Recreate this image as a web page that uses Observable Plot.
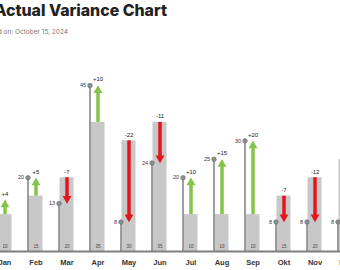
<!DOCTYPE html>
<html>
<head>
<meta charset="utf-8">
<script src="https://cdn.jsdelivr.net/npm/d3@7"></script>
<script src="https://cdn.jsdelivr.net/npm/@observablehq/plot@0.6"></script>
<style>
  html, body { margin: 0; padding: 0; background: #fff; overflow: hidden; }
  #page { position: relative; width: 340px; height: 270px; overflow: hidden; }
  #head { position: relative; width: 340px; height: 40px; }
  #title {
    position: absolute; right: 173px; top: 1px; white-space: nowrap;
    font-family: Inter, "DejaVu Sans", sans-serif; font-weight: 800; font-size: 15.9px;
    color: #222; letter-spacing: 0px;
  }
  #subtitle {
    position: absolute; right: 272px; top: 28px; white-space: nowrap;
    font-family: Inter, "DejaVu Sans", sans-serif; font-size: 6.5px; color: #777;
  }
  #chart svg { display: block; }
</style>
</head>
<body>
<div id="page">
  <div id="head">
    <div id="title">Plan vs Actual Variance Chart</div>
    <div id="subtitle">Updated on: October 15, 2024</div>
  </div>
  <div id="chart"></div>
</div>
<script>
// Monthly plan vs actual values
const months = ["Jan", "Feb", "Mar", "Apr", "May", "Jun", "Jul", "Aug", "Sep", "Okt", "Nov", "Dez"];
const plan   = [10, 15, 20, 35, 30, 35, 10, 10, 10, 15, 20, 25];
const actual = [14, 20, 13, 45,  8, 24, 20, 25, 30,  8,  8,  8];

const rows = months.map((m, i) => ({
  month: m,
  plan: plan[i],
  actual: actual[i],
  diff: actual[i] - plan[i]
}));
const up = rows.filter(d => d.diff >= 0);
const down = rows.filter(d => d.diff < 0);

const green = "#86c34a";
const red = "#e3161e";
const font = "'Liberation Sans', Arial, sans-serif";

const chart = Plot.plot({
  width: 340,
  height: 230,
  margin: 0,
  style: { background: "transparent", fontFamily: font },
  x: { type: "band", domain: months, range: [-11, 361], padding: 0, round: false, axis: null },
  y: { domain: [0, 45], range: [211, 45], axis: null },
  marks: [
    // plan bars
    Plot.barY(rows, { x: "month", y: "plan", fill: "#c8c8c8", insetLeft: 8.5, insetRight: 8.5 }),
    // baseline
    Plot.ruleY([0], { stroke: "#808080", strokeWidth: 2 }),
    // actual lollipops
    Plot.ruleX(rows, { x: "month", y1: 0, y2: "actual", dx: -8, stroke: "#7f7f7f", strokeWidth: 1.5 }),
    Plot.dot(rows, { x: "month", y: "actual", dx: -8, r: 2.3, fill: "#8c8c8c", stroke: "#707070", strokeWidth: 0.6 }),
    Plot.text(rows, { x: "month", y: "actual", text: d => String(d.actual), dx: -12, textAnchor: "end", fontSize: 5.5, fill: "#333" }),
    // variance arrows: shafts
    Plot.ruleX(up, { x: "month", y1: "actual", y2: "plan", insetTop: 4.9, stroke: green, strokeWidth: 3.5 }),
    Plot.ruleX(down, { x: "month", y1: "plan", y2: "actual", insetBottom: 4.9, stroke: red, strokeWidth: 3.5 }),
    // variance arrows: heads
    Plot.dot(up, { x: "month", y: "actual", symbol: "triangle", r: 3.3, fill: green, dy: 4.9 }),
    Plot.dot(down, { x: "month", y: "actual", symbol: "triangle", r: 3.3, fill: red, rotate: 180, dy: -4.9 }),
    // variance labels
    Plot.text(rows, { x: "month", y: d => Math.max(d.plan, d.actual), text: d => (d.diff > 0 ? "+" : "") + d.diff, dy: -6, fontSize: 6, fill: "#222" }),
    // plan values at bar foot
    Plot.text(rows, { x: "month", y: 0, text: d => String(d.plan), dy: -5, fontSize: 4.5, fill: "#444" }),
    // month labels
    Plot.text(rows, { x: "month", y: 0, text: "month", dy: 11, fontSize: 7.5, fontWeight: "bold", fill: "#333" })
  ]
});
document.getElementById("chart").appendChild(chart);
</script>
</body>
</html>
